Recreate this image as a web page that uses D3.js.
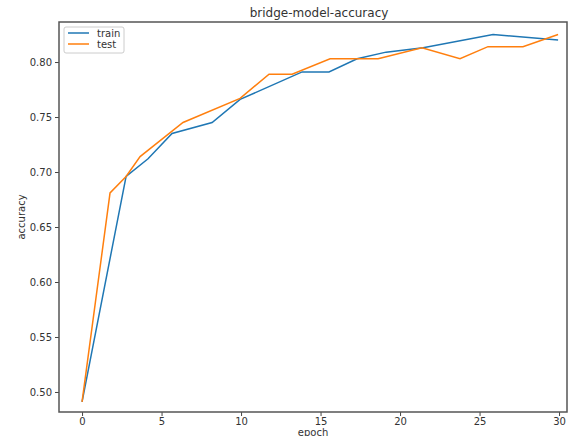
<!DOCTYPE html>
<html>
<head>
<meta charset="utf-8">
<script src="https://d3js.org/d3.v7.min.js"></script>
<style>
body { margin: 0; background: #fff; }
text { font-family: "DejaVu Sans", sans-serif; fill: #333; }
</style>
</head>
<body>
<div id="chart"></div>
<script>
// values
var trainEpoch = [0, 2.77, 4.15, 5.66, 8.18, 9.94, 13.84, 15.53, 17.3, 19.12, 21.45, 25.85, 29.94];
var trainAcc   = [0.491, 0.696, 0.712, 0.735, 0.745, 0.766, 0.791, 0.791, 0.803, 0.809, 0.813, 0.825, 0.820];
var testEpoch  = [0, 1.76, 2.77, 3.65, 6.35, 9.94, 11.76, 13.21, 15.6, 18.62, 21.38, 23.77, 25.53, 27.73, 29.94];
var testAcc    = [0.491, 0.681, 0.696, 0.714, 0.745, 0.767, 0.789, 0.789, 0.803, 0.803, 0.813, 0.803, 0.814, 0.814, 0.825];
var xTicks = [0, 5, 10, 15, 20, 25, 30];
var yTicks = [0.50, 0.55, 0.60, 0.65, 0.70, 0.75, 0.80];

var W = 570, H = 436;
var mLeft = 59, mRight = 567, mTop = 22, mBottom = 412;

var svg = d3.select("#chart").append("svg")
  .attr("width", W).attr("height", H);

var x = d3.scaleLinear().domain([-1.45, 30.5]).range([mLeft, mRight]);
var y = d3.scaleLinear().domain([0.4818, 0.8364]).range([mBottom, mTop]);

// axes
svg.append("g")
  .attr("transform", "translate(0," + mBottom + ")")
  .call(d3.axisBottom(x).tickValues(xTicks).tickSize(4).tickPadding(2).tickFormat(d3.format("d")))
  .call(function(g) { g.select(".domain").remove(); })
  .call(function(g) { g.selectAll("line").attr("stroke", "#444"); })
  .call(function(g) { g.selectAll("text").style("font-size", "10px").attr("fill", "#333"); });

svg.append("g")
  .attr("transform", "translate(" + mLeft + ",0)")
  .call(d3.axisLeft(y).tickValues(yTicks).tickSize(4).tickPadding(3).tickFormat(d3.format(".2f")))
  .call(function(g) { g.select(".domain").remove(); })
  .call(function(g) { g.selectAll("line").attr("stroke", "#444"); })
  .call(function(g) { g.selectAll("text").style("font-size", "10px").attr("fill", "#333"); });

// lines
var line = d3.line().x(function(d) { return x(d[0]); }).y(function(d) { return y(d[1]); });

svg.append("path")
  .datum(d3.zip(trainEpoch, trainAcc))
  .attr("d", line)
  .attr("fill", "none").attr("stroke", "#1f77b4").attr("stroke-width", 1.5);

svg.append("path")
  .datum(d3.zip(testEpoch, testAcc))
  .attr("d", line)
  .attr("fill", "none").attr("stroke", "#ff7f0e").attr("stroke-width", 1.5);

// frame
svg.append("rect")
  .attr("x", mLeft).attr("y", mTop)
  .attr("width", mRight - mLeft).attr("height", mBottom - mTop)
  .attr("fill", "none").attr("stroke", "#555").attr("stroke-width", 1.5);

// title and labels
svg.append("text")
  .attr("x", (mLeft + mRight) / 2 + 6).attr("y", 17)
  .attr("text-anchor", "middle").style("font-size", "12px").attr("fill", "#222")
  .text("bridge-model-accuracy");

svg.append("text")
  .attr("x", (mLeft + mRight) / 2).attr("y", 436)
  .attr("text-anchor", "middle").style("font-size", "10px")
  .text("epoch");

svg.append("text")
  .attr("transform", "translate(25," + ((mTop + mBottom) / 2) + ") rotate(-90)")
  .attr("text-anchor", "middle").style("font-size", "10px")
  .text("accuracy");

// legend
var legend = svg.append("g");
legend.append("rect")
  .attr("x", 64).attr("y", 27).attr("width", 60).attr("height", 26).attr("rx", 2)
  .attr("fill", "#fff").attr("stroke", "#ccc").attr("stroke-width", 1);
var series = [["train", "#1f77b4"], ["test", "#ff7f0e"]];
series.forEach(function(s, i) {
  var ly = 33 + i * 11;
  legend.append("line")
    .attr("x1", 68).attr("x2", 89).attr("y1", ly).attr("y2", ly)
    .attr("stroke", s[1]).attr("stroke-width", 1.5);
  legend.append("text")
    .attr("x", 97).attr("y", ly + 3.5).style("font-size", "10px")
    .text(s[0]);
});
</script>
</body>
</html>
